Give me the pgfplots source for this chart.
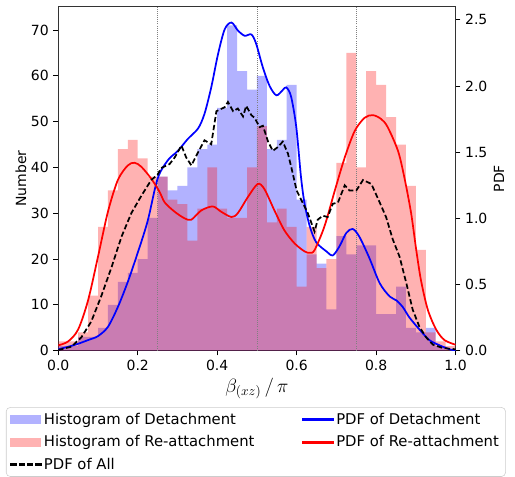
\documentclass[border=0pt]{standalone}
\usepackage{fontspec}
\setmainfont{DejaVu Sans}
\usepackage{pgfplots}
\pgfplotsset{compat=1.18}
\pgfplotsset{
  common/.style={scale only axis, width=298pt, height=258pt, xmin=0, xmax=1, ymin=0,
    tick align=outside, major tick length=3.6pt,
    tick style={black, line width=0.6pt},
    ticklabel style={font=\fontsize{10.5}{12}\selectfont},
    /pgf/number format/assume math mode=true,
    axis line style={line width=0.6pt, black!80},
    label style={font=\fontsize{10.5}{12}\selectfont},
  },
  bhistleg/.style={legend image code/.code={\fill[blue!30, sharp corners] (0pt,-3pt) rectangle (22pt,3pt);}},
  rhistleg/.style={legend image code/.code={\fill[red!30, sharp corners] (0pt,-3pt) rectangle (22pt,3pt);}},
  blineleg/.style={legend image code/.code={\fill[blue, sharp corners] (0pt,-0.65pt) rectangle (23pt,0.65pt);}},
  rlineleg/.style={legend image code/.code={\fill[red, sharp corners] (0pt,-0.65pt) rectangle (23pt,0.65pt);}},
  klineleg/.style={legend image code/.code={%
    \fill[black, sharp corners] (0pt,-0.65pt) rectangle (4pt,0.65pt);
    \fill[black, sharp corners] (6.3pt,-0.65pt) rectangle (10.3pt,0.65pt);
    \fill[black, sharp corners] (12.6pt,-0.65pt) rectangle (16.6pt,0.65pt);
    \fill[black, sharp corners] (18.9pt,-0.65pt) rectangle (22.9pt,0.65pt);}},
}
\begin{document}
\begin{tikzpicture}
\begin{axis}[common, name=main, ymax=75.1,
  ytick={0,10,20,30,40,50,60,70},
  xtick={0,0.2,0.4,0.6,0.8,1.0},
  xticklabel style={/pgf/number format/.cd, fixed, fixed zerofill, precision=1},
  xtick pos=bottom, ytick pos=left,
  xlabel={\fontsize{14}{16}\selectfont$\beta_{(xz)}\,/\,\pi$},
  ylabel={Number},
  xlabel style={at={(axis description cs:0.5,-0.11)}, anchor=center},
  ylabel style={at={(axis description cs:-0.094,0.5)}, anchor=center},
]
% Histogram of Detachment
\addplot[const plot, draw=none, fill=blue, fill opacity=0.3] coordinates {
(0,1) (0.025,1) (0.05,3) (0.075,3) (0.1,5) (0.125,10) (0.15,15) (0.175,17) (0.2,20) (0.225,29)
(0.25,38) (0.275,35) (0.3,36) (0.325,40) (0.35,44) (0.375,45) (0.4,53) (0.425,71) (0.45,61) (0.475,57)
(0.5,60) (0.525,44) (0.55,46) (0.575,58) (0.6,33) (0.625,21) (0.65,19) (0.675,9) (0.7,25) (0.725,21)
(0.75,23) (0.775,23) (0.8,8) (0.825,8) (0.85,14) (0.875,5) (0.9,4) (0.925,5) (0.95,1) (0.975,0) (1,0)
} \closedcycle;
% Histogram of Re-attachment
\addplot[const plot, draw=none, fill=red, fill opacity=0.3] coordinates {
(0,2) (0.025,2) (0.05,4) (0.075,12) (0.1,27) (0.125,35) (0.15,44) (0.175,46) (0.2,42) (0.225,38)
(0.25,38) (0.275,33) (0.3,32) (0.325,24) (0.35,31) (0.375,40) (0.4,31) (0.425,29) (0.45,29) (0.475,40)
(0.5,49) (0.525,28) (0.55,31) (0.575,27) (0.6,14) (0.625,27) (0.65,18) (0.675,20) (0.7,41) (0.725,65)
(0.75,40) (0.775,61) (0.8,58) (0.825,51) (0.85,45) (0.875,36) (0.9,22) (0.925,4) (0.95,2) (0.975,1) (1,1)
} \closedcycle;
\addplot[gray, densely dotted, line width=0.6pt] coordinates {(0.25,0) (0.25,75.1)};
\addplot[gray, densely dotted, line width=0.6pt] coordinates {(0.5,0) (0.5,75.1)};
\addplot[gray, densely dotted, line width=0.6pt] coordinates {(0.75,0) (0.75,75.1)};
\end{axis}
\begin{axis}[common, ymax=2.6,
  axis x line=none, axis y line*=right,
  ytick={0,0.5,1.0,1.5,2.0,2.5},
  yticklabel style={/pgf/number format/.cd, fixed, fixed zerofill, precision=1},
  ylabel={PDF},
  ylabel style={at={(axis description cs:1.109,0.5)}, anchor=center, rotate=0},
  legend columns=2, legend cell align=left,
  legend style={at={(rel axis cs:-0.1316,-0.1643)}, anchor=north west,
    draw=black!20, rounded corners=3pt, fill=white,
    font=\fontsize{11.1}{13}\selectfont, row sep=3pt,
    /tikz/every even column/.append style={column sep=34pt}},
]
\addlegendimage{bhistleg}
\addlegendentry{Histogram of Detachment}
\addlegendimage{blineleg}
\addlegendentry{PDF of Detachment}
\addlegendimage{rhistleg}
\addlegendentry{Histogram of Re-attachment}
\addlegendimage{rlineleg}
\addlegendentry{PDF of Re-attachment}
\addlegendimage{klineleg}
\addlegendentry{PDF of All}
% PDF of Detachment
\addplot[blue, line width=1.3pt, smooth, forget plot] coordinates {
(0.0,0.01) (0.043,0.045) (0.075,0.08) (0.1,0.11) (0.125,0.18) (0.15,0.33) (0.175,0.52) (0.2,0.74) (0.225,0.98)
(0.25,1.30) (0.276,1.44) (0.301,1.51) (0.326,1.60) (0.352,1.68) (0.368,1.79) (0.385,1.99) (0.402,2.24)
(0.419,2.43) (0.436,2.48) (0.452,2.42) (0.469,2.38) (0.486,2.39) (0.498,2.32) (0.515,2.14) (0.532,2.00)
(0.549,1.93) (0.565,1.97) (0.574,1.99) (0.586,1.92) (0.599,1.69) (0.611,1.31) (0.620,1.11) (0.633,0.94)
(0.649,0.82) (0.675,0.75) (0.691,0.72) (0.708,0.79) (0.725,0.89) (0.741,0.92) (0.758,0.86) (0.783,0.70)
(0.809,0.51) (0.834,0.41) (0.851,0.38) (0.867,0.33) (0.884,0.25) (0.909,0.16) (0.934,0.08) (0.96,0.04)
(0.985,0.01) (1.0,0.0)
};
% PDF of Re-attachment
\addplot[red, line width=1.3pt, smooth, forget plot] coordinates {
(0.0,0.04) (0.025,0.07) (0.05,0.16) (0.075,0.38) (0.1,0.71) (0.125,1.05) (0.15,1.29) (0.175,1.40)
(0.192,1.42) (0.209,1.39) (0.234,1.30) (0.255,1.20) (0.268,1.12) (0.293,1.05) (0.318,1.00) (0.335,0.99)
(0.36,1.06) (0.389,1.09) (0.41,1.05) (0.436,1.01) (0.452,1.04) (0.477,1.16) (0.502,1.26) (0.519,1.22)
(0.544,1.06) (0.569,0.91) (0.595,0.81) (0.62,0.75) (0.633,0.74) (0.645,0.76) (0.67,0.94) (0.696,1.21)
(0.721,1.46) (0.746,1.66) (0.771,1.76) (0.792,1.78) (0.813,1.75) (0.829,1.69) (0.855,1.51) (0.871,1.31)
(0.888,1.04) (0.901,0.76) (0.913,0.53) (0.93,0.31) (0.951,0.16) (0.972,0.08) (1.0,0.045)
};
% PDF of All
\addplot[black, line width=1.3pt, dash pattern=on 4pt off 2pt, forget plot] coordinates {
(0.0,0.005) (0.033,0.03) (0.058,0.10) (0.083,0.22) (0.108,0.41) (0.134,0.63) (0.159,0.86) (0.184,1.04)
(0.209,1.17) (0.234,1.29) (0.25,1.33) (0.259,1.38) (0.28,1.41) (0.293,1.46) (0.31,1.55) (0.322,1.46)
(0.335,1.40) (0.352,1.50) (0.368,1.59) (0.385,1.56) (0.398,1.81) (0.419,1.84) (0.427,1.88) (0.44,1.81)
(0.452,1.83) (0.465,1.77) (0.473,1.85) (0.486,1.78) (0.494,1.76) (0.507,1.69) (0.515,1.70) (0.528,1.58)
(0.540,1.51) (0.553,1.54) (0.565,1.58) (0.578,1.49) (0.587,1.38) (0.6,1.21) (0.628,1.04) (0.645,0.90)
(0.653,0.99) (0.666,1.02) (0.678,1.01) (0.691,1.11) (0.704,1.12) (0.721,1.25) (0.733,1.21) (0.75,1.21)
(0.767,1.29) (0.788,1.26) (0.809,1.12) (0.825,1.01) (0.842,0.84) (0.859,0.71) (0.876,0.51) (0.892,0.31)
(0.909,0.18) (0.926,0.10) (0.943,0.045) (0.968,0.02) (1.0,0.01)
};
\end{axis}
\path[use as bounding box] ([shift={(-43.7pt,-91.9pt)}]main.south west) rectangle ([shift={(342.55pt,263pt)}]main.south west);
\end{tikzpicture}
\end{document}
